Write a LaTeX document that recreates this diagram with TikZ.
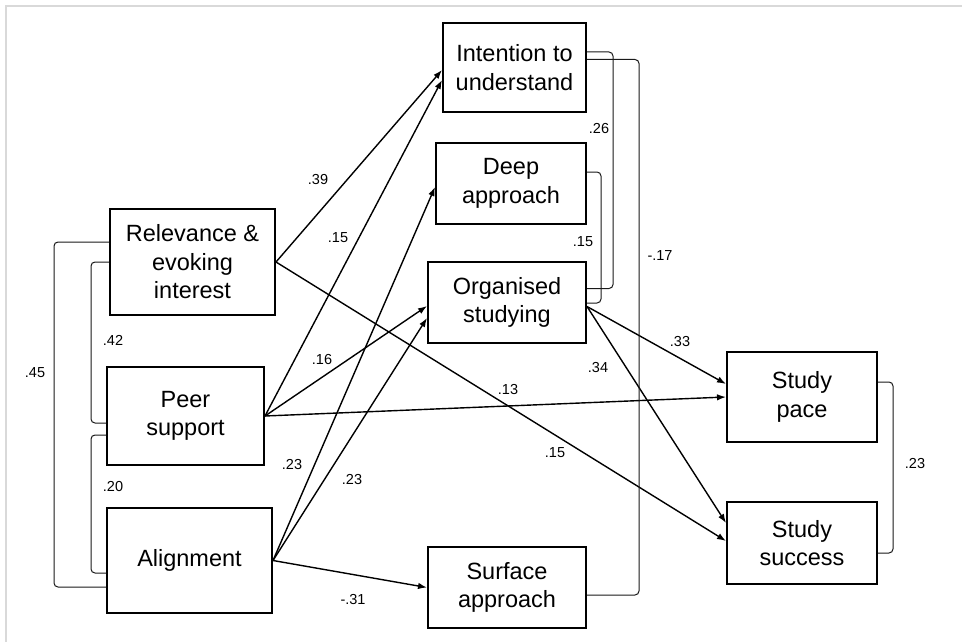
\documentclass[tikz,border=0pt]{standalone}
\usepackage{fontspec}
\setmainfont{Liberation Sans}
\usepackage{tikz}
\usetikzlibrary{arrows.meta, positioning, calc}

\begin{document}
\begin{tikzpicture}[
  x=1pt, y=-1pt,
  construct/.style={rectangle, draw, line width=2pt, align=center, inner sep=2pt, font=\fontsize{23.5}{28.5}\selectfont},
  coef/.style={inner sep=0pt, font=\fontsize{14.5}{16}\selectfont},
  path/.style={-{Latex[length=9pt,width=6.5pt]}, line width=1.4pt},
  corr/.style={line width=1pt, draw=black!90, rounded corners=4pt},
  frame/.style={line width=2pt, draw=black!15}
]
\useasboundingbox (0,0) rectangle (966,642);
\draw[frame] (6,642) -- (6,6) -- (962,6);

% Predictors (left column)
\node[construct, minimum width=165pt, minimum height=106pt] (rel) at (192.5,262) {Relevance \&\\evoking\\interest};
\node[construct, minimum width=157pt, minimum height=98pt] (peer) at (185.5,416) {Peer\\support};
\node[construct, minimum width=165pt, minimum height=105pt] (align) at (189.5,560.5) {Alignment};

% Approaches to learning (middle column)
\node[construct, minimum width=143pt, minimum height=89pt] (int) at (514.5,67.5) {Intention to\\understand};
\node[construct, minimum width=150pt, minimum height=81pt] (deep) at (511,183.5) {Deep\\approach};
\node[construct, minimum width=158pt, minimum height=81pt] (org) at (507,302.5) {Organised\\studying};
\node[construct, minimum width=158pt, minimum height=81pt] (surf) at (507,587.5) {Surface\\approach};

% Outcomes (right column)
\node[construct, minimum width=150pt, minimum height=90pt] (pace) at (802,397) {Study\\pace};
\node[construct, minimum width=150pt, minimum height=82pt] (succ) at (802,543) {Study\\success};

% Paths
\draw[path] (rel.east) -- ($(int.west)+(0,2.5)$);
\draw[path] (rel.east) -- ($(succ.west)+(0,-2)$);
\draw[path] (peer.east) -- ($(int.west)+(0,12.5)$);
\draw[path] (peer.east) -- ($(org.west)+(0,3.5)$);
\draw[path] (peer.east) -- (pace.west);
\draw[path] (align.east) -- ($(deep.west)+(0,3.5)$);
\draw[path] (align.east) -- ($(org.west)+(0,15.5)$);
\draw[path] (align.east) -- (surf.west);
\draw[path] ($(org.east)+(0,4)$) -- ($(pace.west)+(0,-13)$);
\draw[path] ($(org.east)+(0,4)$) -- ($(succ.west)+(0,-20)$);

% Correlations
\draw[corr] ($(rel.west)+(0,-20)$) -- ++(-55,0) |- ($(align.west)+(0,26.5)$);
\draw[corr] (rel.west) -- ++(-18,0) |- ($(peer.west)+(0,7)$);
\draw[corr] ($(peer.west)+(0,19)$) -- ++(-15,0) |- ($(align.west)+(0,12.5)$);
\draw[corr] ($(int.east)+(0,-15.5)$) -- ++(26,0) |- ($(org.east)+(0,-14)$);
\draw[corr] ($(deep.east)+(0,-11.5)$) -- ++(14,0) |- ($(org.east)+(0,0.5)$);
\draw[corr] ($(int.east)+(0,-8)$) -- ++(52,0) |- ($(surf.east)+(0,7.5)$);
\draw[corr] ($(pace.east)+(0,-15)$) -- ++(15,0) |- ($(succ.east)+(0,10)$);

% Coefficients
\node[coef] (c45) at (35,373) {.45};
\node[coef] (c42) at (113,340) {.42};
\node[coef] (c20) at (113,487) {.20};
\node[coef] (c39) at (318,180) {.39};
\node[coef] (c15a) at (338,238) {.15};
\node[coef] (c16) at (322,360) {.16};
\node[coef] (c23a) at (292,465) {.23};
\node[coef] (c23b) at (352,480) {.23};
\node[coef] (c31) at (353,600) {-.31};
\node[coef] (c13) at (508,390) {.13};
\node[coef] (c15b) at (555,453) {.15};
\node[coef] (c34) at (598,368) {.34};
\node[coef] (c33) at (680,342) {.33};
\node[coef] (c26) at (599,129) {.26};
\node[coef] (c15c) at (583,242) {.15};
\node[coef] (c17) at (660,256) {-.17};
\node[coef] (c23c) at (915,464) {.23};

\end{tikzpicture}
\end{document}
